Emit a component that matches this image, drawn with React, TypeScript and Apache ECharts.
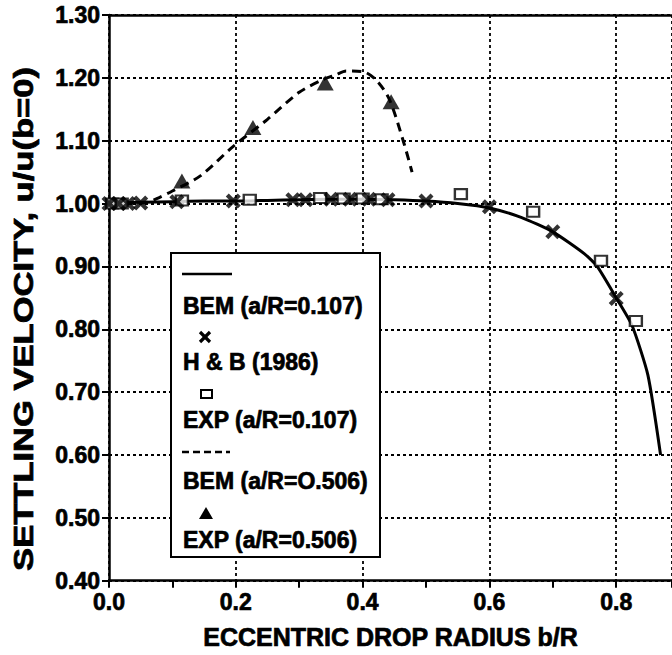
import React, { useEffect, useRef } from 'react';
import * as echarts from 'echarts';

// BEM a/R = 0.107 (solid line)
const bemSmallX = [0, 0.05, 0.1, 0.15, 0.2, 0.25, 0.3, 0.35, 0.4, 0.45, 0.5, 0.55, 0.6, 0.65, 0.7, 0.75, 0.77, 0.8, 0.825, 0.85, 0.87];
const bemSmallY = [1.0, 1.002, 1.003, 1.004, 1.004, 1.005, 1.006, 1.007, 1.007, 1.006, 1.004, 1.0, 0.993, 0.978, 0.955, 0.92, 0.9, 0.85, 0.806, 0.727, 0.6];

// BEM a/R = 0.506 (dashed line)
const bemLargeX = [0.0, 0.03, 0.06, 0.08, 0.1, 0.144, 0.196, 0.25, 0.3, 0.337, 0.358, 0.374, 0.4, 0.421, 0.442, 0.464, 0.478];
const bemLargeY = [1.0, 1.0, 1.002, 1.01, 1.02, 1.044, 1.091, 1.134, 1.177, 1.197, 1.205, 1.211, 1.21, 1.197, 1.166, 1.1, 1.05];

// H & B (1986) crosses
const hbX = [0, 0.015, 0.03, 0.05, 0.107, 0.196, 0.29, 0.31, 0.35, 0.38, 0.41, 0.44, 0.5, 0.6, 0.7, 0.8];
const hbY = [1.0, 1.0, 1.0, 1.001, 1.003, 1.004, 1.006, 1.006, 1.007, 1.007, 1.007, 1.006, 1.004, 0.995, 0.955, 0.849];

// EXP a/R = 0.107 squares
const expSmallX = [0.005, 0.02, 0.115, 0.222, 0.333, 0.37, 0.4, 0.43, 0.555, 0.669, 0.776, 0.831];
const expSmallY = [1.0, 1.0, 1.005, 1.006, 1.009, 1.008, 1.008, 1.007, 1.015, 0.987, 0.909, 0.813];

// EXP a/R = 0.506 triangles
const expLargeX = [0.115, 0.227, 0.341, 0.445];
const expLargeY = [1.036, 1.121, 1.192, 1.162];

const xTickLabels = ['0.0', '0.2', '0.4', '0.6', '0.8'];

const FONT = '"Liberation Sans", Arial, Helvetica, sans-serif';
const CROSS = 'path://M0,2 L2,0 L5,3 L8,0 L10,2 L7,5 L10,8 L8,10 L5,7 L2,10 L0,8 L3,5 Z';

const zip = (xs: number[], ys: number[]) => xs.map((x, i) => [x, ys[i]]);

export default function App() {
  const ref = useRef<HTMLDivElement>(null);
  useEffect(() => {
    const chart = echarts.init(ref.current!, null, { renderer: 'svg' });
    const legendText = (text: string, y: number) => ({
      type: 'text',
      z: 102,
      x: 183,
      y,
      style: {
        text,
        fill: '#000',
        font: `bold 23px ${FONT}`,
        textVerticalAlign: 'middle',
        stroke: '#000',
        lineWidth: 0.7,
      },
    });
    const boldLabel = {
      fontFamily: FONT,
      fontWeight: 'bold',
      color: '#000',
      textBorderColor: '#000',
      textBorderWidth: 0.7,
    };
    chart.setOption({
      animation: false,
      backgroundColor: '#fff',
      grid: { left: 109, top: 15, right: 0, bottom: 71 },
      xAxis: [
        {
          type: 'value',
          min: 0,
          max: 0.888,
          interval: 0.2,
          name: 'ECCENTRIC DROP RADIUS b/R',
          nameLocation: 'middle',
          nameGap: 44,
          nameTextStyle: { ...boldLabel, fontSize: 25 },
          axisLine: { show: true, onZero: false, lineStyle: { color: '#000', width: 2.5 } },
          axisTick: { show: true, inside: false, length: 7, lineStyle: { color: '#000', width: 2 } },
          minorTick: { show: true, splitNumber: 2, length: 7, lineStyle: { color: '#000', width: 2 } },
          axisLabel: {
            ...boldLabel,
            showMaxLabel: false,
            margin: 10,
            fontSize: 23,
            formatter: (v: number) => {
              const s = v.toFixed(1);
              return xTickLabels.includes(s) ? s : '';
            },
          },
          splitLine: { show: true, lineStyle: { color: '#000', width: 1.8, type: [3, 3] } },
        },
        {
          type: 'value',
          position: 'top',
          min: 0,
          max: 0.888,
          axisLine: { show: true, onZero: false, lineStyle: { color: '#000', width: 2.5 } },
          axisTick: { show: false },
          axisLabel: { show: false },
          splitLine: { show: false },
        },
      ],
      yAxis: {
        type: 'value',
        min: 0.4,
        max: 1.3,
        interval: 0.1,
        axisLine: { show: true, onZero: false, lineStyle: { color: '#000', width: 2.5 } },
        axisTick: { show: true, inside: false, length: 7, lineStyle: { color: '#000', width: 2 } },
        axisLabel: {
          ...boldLabel,
          margin: 9,
          fontSize: 23,
          formatter: (v: number) => v.toFixed(2),
        },
        splitLine: { show: true, lineStyle: { color: '#000', width: 1.8, type: [3, 3] } },
      },
      series: [
        {
          name: 'BEM (a/R=0.107)',
          type: 'line',
          data: zip(bemSmallX, bemSmallY),
          symbol: 'none',
          smooth: 0.2,
          lineStyle: { color: '#000', width: 3 },
          z: 3,
        },
        {
          name: 'BEM (a/R=O.506)',
          type: 'line',
          data: zip(bemLargeX, bemLargeY),
          symbol: 'none',
          smooth: 0.3,
          lineStyle: { color: '#000', width: 3, type: [9, 6] },
          z: 3,
        },
        {
          name: 'H & B (1986)',
          type: 'scatter',
          data: zip(hbX, hbY),
          symbol: CROSS,
          symbolSize: 15,
          itemStyle: { color: '#000' },
          z: 5,
        },
        {
          name: 'EXP (a/R=0.107)',
          type: 'scatter',
          data: zip(expSmallX, expSmallY),
          symbol: 'rect',
          symbolSize: [12, 10],
          itemStyle: { color: '#fff', borderColor: '#000', borderWidth: 2.2 },
          z: 4,
        },
        {
          name: 'EXP (a/R=0.506)',
          type: 'scatter',
          data: zip(expLargeX, expLargeY),
          symbol: 'triangle',
          symbolSize: [17, 15],
          itemStyle: { color: '#000' },
          z: 5,
        },
      ],
      graphic: [
        {
          type: 'text',
          x: 24,
          y: 319,
          rotation: Math.PI / 2,
          scaleX: 1.28,
          style: {
            text: 'SETTLING VELOCITY, u/u(b=0)',
            fill: '#000',
            font: `bold 27px ${FONT}`,
            textAlign: 'center',
            textVerticalAlign: 'middle',
            stroke: '#000',
            lineWidth: 0.7,
          },
        },
        {
          type: 'rect',
          z: 100,
          shape: { x: 171, y: 253, width: 209, height: 304 },
          style: { fill: '#fff', stroke: '#000', lineWidth: 2 },
        },
        { type: 'line', z: 102, shape: { x1: 182, y1: 274, x2: 232, y2: 274 }, style: { stroke: '#000', lineWidth: 2.5 } },
        legendText('BEM (a/R=0.107)', 306),
        { type: 'line', z: 102, shape: { x1: 200, y1: 332, x2: 210, y2: 342 }, style: { stroke: '#000', lineWidth: 3.2 } },
        { type: 'line', z: 102, shape: { x1: 210, y1: 332, x2: 200, y2: 342 }, style: { stroke: '#000', lineWidth: 3.2 } },
        legendText('H & B (1986)', 362),
        { type: 'rect', z: 102, shape: { x: 201, y: 390, width: 11, height: 8 }, style: { fill: '#fff', stroke: '#000', lineWidth: 2 } },
        legendText('EXP (a/R=0.107)', 420),
        {
          type: 'line',
          z: 102,
          shape: { x1: 182, y1: 452, x2: 230, y2: 452 },
          style: { stroke: '#000', lineWidth: 2.5, lineDash: [7, 4] },
        },
        legendText('BEM (a/R=O.506)', 481),
        {
          type: 'polygon',
          z: 102,
          shape: { points: [[206, 507], [213, 519], [199, 519]] },
          style: { fill: '#000' },
        },
        legendText('EXP (a/R=0.506)', 540),
      ],
    });
    return () => chart.dispose();
  }, []);
  return (
    <div
      ref={ref}
      style={{ position: 'absolute', left: 0, top: 0, width: 672, height: 655, background: '#fff' }}
    />
  );
}
